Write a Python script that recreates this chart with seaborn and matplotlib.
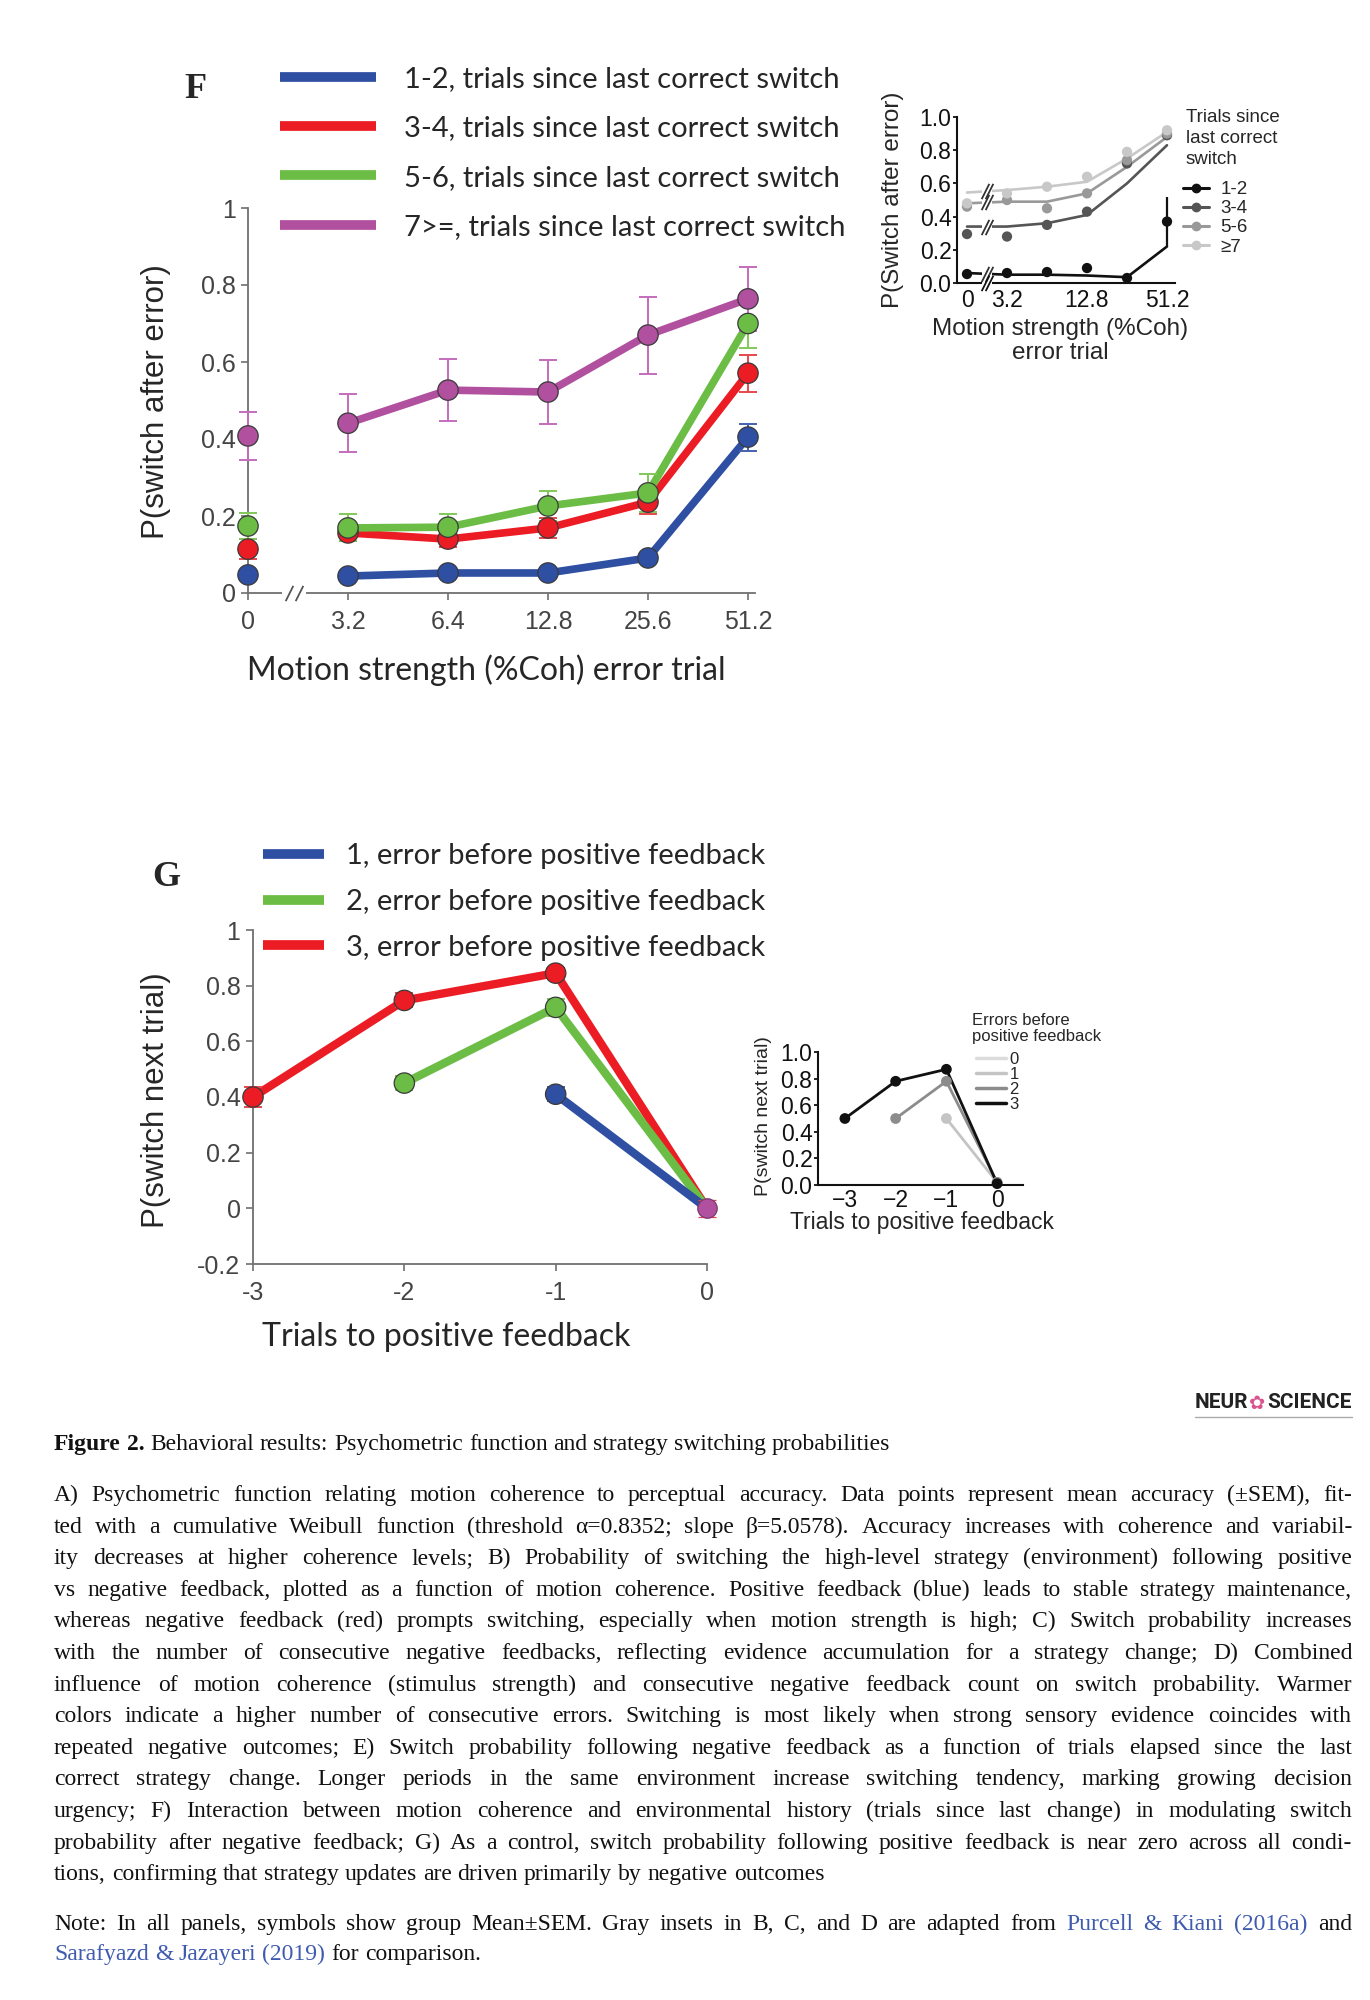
import numpy as np
import pandas as pd
import seaborn as sns
import matplotlib.pyplot as plt
from matplotlib.lines import Line2D

# ---------------- panel F (main) ----------------
coh_labels = ['0', '3.2', '6.4', '12.8', '25.6', '51.2']
f_groups = ['1-2', '3-4', '5-6', '7>=']
f_mean_12 = [0.047, 0.044, 0.052, 0.052, 0.091, 0.405]
f_sem_12 = [0.010, 0.008, 0.010, 0.010, 0.012, 0.035]
f_mean_34 = [0.114, 0.156, 0.140, 0.169, 0.236, 0.571]
f_sem_34 = [0.025, 0.020, 0.020, 0.025, 0.030, 0.048]
f_mean_56 = [0.174, 0.169, 0.171, 0.226, 0.260, 0.700]
f_sem_56 = [0.033, 0.035, 0.033, 0.040, 0.050, 0.064]
f_mean_7 = [0.408, 0.441, 0.527, 0.522, 0.670, 0.764]
f_sem_7 = [0.063, 0.076, 0.080, 0.084, 0.100, 0.083]
f_legend = ['1-2, trials since last correct switch',
            '3-4, trials since last correct switch',
            '5-6, trials since last correct switch',
            '7>=, trials since last correct switch']

# ---------------- panel F (inset, adapted) ----------------
fi_labels = ['1-2', '3-4', '5-6', '≥7']
fi_title = 'Trials since\nlast correct\nswitch'
fi_xlabels = ['0', '3.2', '12.8', '51.2']
fi_dots_12 = [0.054, 0.060, 0.066, 0.090, 0.030, 0.370]
fi_fit_12 = [0.060, 0.050, 0.050, 0.045, 0.035, 0.220]
fi_dots_34 = [0.295, 0.280, 0.350, 0.430, 0.720, 0.890]
fi_fit_34 = [0.340, 0.340, 0.360, 0.410, 0.600, 0.830]
fi_dots_56 = [0.460, 0.500, 0.450, 0.540, 0.740, 0.900]
fi_fit_56 = [0.480, 0.490, 0.490, 0.540, 0.700, 0.880]
fi_dots_7 = [0.480, 0.540, 0.580, 0.640, 0.790, 0.920]
fi_fit_7 = [0.545, 0.560, 0.580, 0.610, 0.750, 0.910]
fi_err_12 = 0.15  # error on the 51.2 point of 1-2

# ---------------- panel G (main) ----------------
g_groups = ['1', '2', '3']
g_trials_1 = [-1, 0]
g_mean_1 = [0.410, 0.0]
g_sem_1 = [0.025, 0.0]
g_trials_2 = [-2, -1, 0]
g_mean_2 = [0.450, 0.722, 0.0]
g_sem_2 = [0.025, 0.030, 0.0]
g_trials_3 = [-3, -2, -1, 0]
g_mean_3 = [0.400, 0.747, 0.845, 0.0]
g_sem_3 = [0.035, 0.025, 0.020, 0.0]
g_zero_mean = 0.0
g_zero_sem = 0.03
g_legend = ['1, error before positive feedback',
            '2, error before positive feedback',
            '3, error before positive feedback']

# ---------------- panel G (inset, adapted) ----------------
gi_levels = ['0', '1', '2', '3']
gi_title = 'Errors before\npositive feedback'
gi_trials_1 = [-1, 0]
gi_p_1 = [0.50, 0.02]
gi_trials_2 = [-2, -1, 0]
gi_p_2 = [0.50, 0.78, 0.02]
gi_trials_3 = [-3, -2, -1, 0]
gi_p_3 = [0.50, 0.78, 0.87, 0.01]

sns.set_style('ticks')
plt.rcParams['font.family'] = ['Liberation Sans', 'DejaVu Sans']
CAL = ['Lato', 'DejaVu Sans']

W, H = 1370, 2000
fig = plt.figure(figsize=(13.7, 20), dpi=100)
fig.patch.set_facecolor('white')


def rect(left, top, right, bottom):
    return [left / W, 1 - bottom / H, (right - left) / W, (bottom - top) / H]


def axis_break(ax, x, y, color):
    ax.plot([x - 0.12, x + 0.12], [y, y], color='white', lw=4.5, zorder=5,
            clip_on=False, solid_capstyle='butt')
    ax.plot([x - 0.05, x + 0.05], [y, y], ls='none', marker=[(-0.5, -1), (0.5, 1)],
            ms=11, mec=color, mew=1.3, zorder=6, clip_on=False)


# ======== F main ========
ax_f = fig.add_axes(rect(248, 208, 755, 593))
rows = []
for g, m, s in zip(f_groups, [f_mean_12, f_mean_34, f_mean_56, f_mean_7],
                   [f_sem_12, f_sem_34, f_sem_56, f_sem_7]):
    for i, (mm, ss) in enumerate(zip(m, s)):
        rows.append(dict(pos=i, group=g, p=mm, err=ss))
df_f = pd.DataFrame(rows)
f_pal = dict(zip(f_groups, ['#2f4fa2', '#ec1c24', '#6bbd45', '#b1509f']))
f_err = dict(zip(f_groups, ['#4660b0', '#e8474c', '#80c85a', '#c46cbc']))

sns.lineplot(data=df_f[df_f['pos'] > 0], x='pos', y='p', hue='group', hue_order=f_groups,
             palette=f_pal, linewidth=5.5, errorbar=None, legend=False, ax=ax_f, zorder=2)
for g in f_groups:
    d = df_f[df_f['group'] == g]
    ax_f.errorbar(d['pos'], d['p'], yerr=d['err'], fmt='none', ecolor=f_err[g], elinewidth=1.4,
                  capsize=6.5, capthick=1.4, zorder=3, clip_on=False)
sns.scatterplot(data=df_f, x='pos', y='p', hue='group', hue_order=f_groups, palette=f_pal,
                s=215, edgecolor='#3a3a3a', linewidth=0.9, legend=False, ax=ax_f,
                zorder=4, clip_on=False)

ax_f.set_xlim(0, 5.07)
ax_f.set_ylim(0, 1)
ax_f.set_xticks(range(len(coh_labels)), coh_labels)
ax_f.set_yticks([0, 0.2, 0.4, 0.6, 0.8, 1.0], ['0', '0.2', '0.4', '0.6', '0.8', '1'])
sns.despine(ax=ax_f)
for sp in ['left', 'bottom']:
    ax_f.spines[sp].set_color('#707070')
    ax_f.spines[sp].set_linewidth(1.3)
ax_f.tick_params(colors='#707070', labelcolor='#444444', labelsize=18, length=5, width=1.2)
ax_f.tick_params(axis='x', pad=7)
ax_f.tick_params(axis='y', pad=4)
axis_break(ax_f, 0.46, 0, '#555555')
ax_f.set_xlabel('Motion strength (%Coh) error trial', fontsize=23, family=CAL, va='center')
ax_f.xaxis.set_label_coords(0.471, -0.2)
ax_f.set_ylabel('P(switch after error)', fontsize=22.5, va='center')
ax_f.yaxis.set_label_coords(-0.181, 0.496)

f_handles = [Line2D([], [], color=f_pal[g], lw=7, solid_capstyle='butt') for g in f_groups]
fig.legend(f_handles, f_legend, loc='upper left', bbox_to_anchor=(280 / W, 1 - 66 / H),
           frameon=False, prop={'family': CAL, 'size': 21}, handlelength=3.3,
           handletextpad=0.95, labelspacing=0.8, borderpad=0, borderaxespad=0)
fig.text(195 / W, 1 - 90 / H, 'F', fontsize=26, fontweight='bold',
         family=['Liberation Serif', 'DejaVu Serif'], ha='center', va='center')

# ======== F inset ========
ax_fi = fig.add_axes(rect(957, 117, 1175, 283))
rows = []
for g, dv, fv in zip(fi_labels, [fi_dots_12, fi_dots_34, fi_dots_56, fi_dots_7],
                     [fi_fit_12, fi_fit_34, fi_fit_56, fi_fit_7]):
    for i, (a, b) in enumerate(zip(dv, fv)):
        rows.append(dict(pos=i, group=g, obs=a, fitval=b))
df_fi = pd.DataFrame(rows)
fi_pal = dict(zip(fi_labels, ['#111111', '#555555', '#999999', '#c8c8c8']))
order_fi = fi_labels[::-1]
sns.lineplot(data=df_fi, x='pos', y='fitval', hue='group', hue_order=order_fi, palette=fi_pal,
             linewidth=1.9, errorbar=None, legend=False, ax=ax_fi, zorder=2)
sns.scatterplot(data=df_fi, x='pos', y='obs', hue='group', hue_order=order_fi, palette=fi_pal,
                s=55, edgecolor='none', legend=False, ax=ax_fi, zorder=3, clip_on=False)
ax_fi.errorbar(5, fi_dots_12[5], yerr=fi_err_12, fmt='none', ecolor='#111111', elinewidth=1.6,
               capsize=0, zorder=3)
for g in fi_labels:
    d = df_fi[df_fi['group'] == g]
    axis_break(ax_fi, 0.5, d['fitval'].iloc[:2].mean(), '#333333')
axis_break(ax_fi, 0.5, 0, '#111111')
ax_fi.set_xlim(-0.25, 5.2)
ax_fi.set_ylim(0, 1.0)
ax_fi.set_xticks([0, 1, 3, 5], fi_xlabels)
ax_fi.set_yticks(np.arange(0, 1.01, 0.2), ['0.0', '0.2', '0.4', '0.6', '0.8', '1.0'])
sns.despine(ax=ax_fi)
for sp in ['left', 'bottom']:
    ax_fi.spines[sp].set_color('#111111')
    ax_fi.spines[sp].set_linewidth(1.5)
ax_fi.tick_params(labelsize=16.5, colors='#111111', width=1.3)
ax_fi.tick_params(axis='x', length=0, pad=4)
ax_fi.tick_params(axis='y', length=3, pad=1)
ax_fi.set_ylabel('P(Switch after error)', fontsize=17.5, va='center')
ax_fi.yaxis.set_label_coords(-0.294, 0.5)
ax_fi.set_xlabel('Motion strength (%Coh)\nerror trial', fontsize=17.5, va='center',
                 linespacing=1.1)
ax_fi.xaxis.set_label_coords(0.472, -0.35)
fi_handles = [Line2D([], [], color=fi_pal[g], lw=2.2, marker='o', ms=6) for g in fi_labels]
ax_fi.legend(fi_handles, fi_labels, loc='upper left',
             bbox_to_anchor=(1183 / W, 1 - 181 / H), bbox_transform=fig.transFigure,
             frameon=False, fontsize=13.5, handlelength=1.4, handletextpad=0.6,
             labelspacing=0.11, borderpad=0, borderaxespad=0)
fig.text(1186 / W, 1 - 138.5 / H, fi_title, fontsize=13.5, linespacing=1.3,
         ha='left', va='center')

# ======== G main ========
ax_g = fig.add_axes(rect(253, 930, 707, 1264))
rows = []
for g, t, m, s in zip(g_groups, [g_trials_1, g_trials_2, g_trials_3],
                      [g_mean_1, g_mean_2, g_mean_3], [g_sem_1, g_sem_2, g_sem_3]):
    for tt, mm, ss in zip(t, m, s):
        rows.append(dict(trial=tt, group=g, p=mm, err=ss))
df_g = pd.DataFrame(rows)
g_pal = dict(zip(g_groups, ['#2f4fa2', '#6bbd45', '#ec1c24']))
g_err = dict(zip(g_groups, ['#4660b0', '#80c85a', '#e8474c']))
order_g = g_groups[::-1]
sns.lineplot(data=df_g, x='trial', y='p', hue='group', hue_order=order_g, palette=g_pal,
             linewidth=6, errorbar=None, legend=False, ax=ax_g, zorder=2)
dots_g = df_g[df_g['trial'] < 0]
for g in order_g:
    d = dots_g[dots_g['group'] == g]
    ax_g.errorbar(d['trial'], d['p'], yerr=d['err'], fmt='none', ecolor=g_err[g], elinewidth=1.4,
                  capsize=6.5, capthick=1.4, zorder=3, clip_on=False)
sns.scatterplot(data=dots_g, x='trial', y='p', hue='group', hue_order=order_g, palette=g_pal,
                s=215, edgecolor='#3a3a3a', linewidth=0.9, legend=False, ax=ax_g,
                zorder=4, clip_on=False)
ax_g.errorbar([0], [g_zero_mean], yerr=[g_zero_sem], fmt='o', color='#b1509f', ms=14,
              mec='#7a3a70', mew=0.9, ecolor='#e8474c', elinewidth=1.4, capsize=6.5,
              capthick=1.4, zorder=4, clip_on=False)
ax_g.set_xlim(-3, 0)
ax_g.set_ylim(-0.2, 1)
ax_g.set_xticks([-3, -2, -1, 0], ['-3', '-2', '-1', '0'])
ax_g.set_yticks([-0.2, 0, 0.2, 0.4, 0.6, 0.8, 1.0],
                ['-0.2', '0', '0.2', '0.4', '0.6', '0.8', '1'])
sns.despine(ax=ax_g)
for sp in ['left', 'bottom']:
    ax_g.spines[sp].set_color('#707070')
    ax_g.spines[sp].set_linewidth(1.3)
ax_g.tick_params(colors='#707070', labelcolor='#444444', labelsize=18, length=5, width=1.2)
ax_g.tick_params(axis='x', pad=7)
ax_g.tick_params(axis='y', pad=4)
ax_g.set_xlabel('Trials to positive feedback', fontsize=23, family=CAL, va='center')
ax_g.xaxis.set_label_coords(0.425, -0.219)
ax_g.set_ylabel('P(switch next trial)', fontsize=22.5, va='center')
ax_g.yaxis.set_label_coords(-0.214, 0.491)

g_handles = [Line2D([], [], color=g_pal[g], lw=7, solid_capstyle='butt') for g in g_groups]
fig.legend(g_handles, g_legend, loc='upper left', bbox_to_anchor=(263 / W, 1 - 843 / H),
           frameon=False, prop={'family': CAL, 'size': 21}, handlelength=2.1,
           handletextpad=0.75, labelspacing=0.68, borderpad=0, borderaxespad=0)
fig.text(166 / W, 1 - 878 / H, 'G', fontsize=26, fontweight='bold',
         family=['Liberation Serif', 'DejaVu Serif'], ha='center', va='center')

# ======== G inset ========
ax_gi = fig.add_axes(rect(818, 1052, 1023, 1185))
rows = []
for g, t, p in zip(gi_levels[1:], [gi_trials_1, gi_trials_2, gi_trials_3],
                   [gi_p_1, gi_p_2, gi_p_3]):
    for tt, pp in zip(t, p):
        rows.append(dict(trial=tt, group=g, p=pp))
df_gi = pd.DataFrame(rows)
gi_pal = dict(zip(gi_levels, ['#dcdcdc', '#c4c4c4', '#8c8c8c', '#111111']))
sns.lineplot(data=df_gi, x='trial', y='p', hue='group', hue_order=gi_levels[1:],
             palette=gi_pal, linewidth=2, errorbar=None, legend=False, ax=ax_gi, zorder=2)
sns.scatterplot(data=df_gi, x='trial', y='p', hue='group', hue_order=gi_levels[1:],
                palette=gi_pal, s=60, edgecolor='none', legend=False, ax=ax_gi, zorder=3,
                clip_on=False)
ax_gi.set_xlim(-3.53, 0.51)
ax_gi.set_ylim(0, 1.0)
ax_gi.set_xticks([-3, -2, -1, 0], ['\u22123', '\u22122', '\u22121', '0'])
ax_gi.set_yticks(np.arange(0, 1.01, 0.2), ['0.0', '0.2', '0.4', '0.6', '0.8', '1.0'])
sns.despine(ax=ax_gi)
for sp in ['left', 'bottom']:
    ax_gi.spines[sp].set_color('#111111')
    ax_gi.spines[sp].set_linewidth(1.5)
ax_gi.tick_params(labelsize=16.5, colors='#111111', width=1.3)
ax_gi.tick_params(axis='x', length=0, pad=3)
ax_gi.tick_params(axis='y', length=3, pad=1)
ax_gi.set_ylabel('P(switch next trial)', fontsize=14, va='center')
ax_gi.yaxis.set_label_coords(-0.268, 0.52)
ax_gi.set_xlabel('Trials to positive feedback', fontsize=16.5, va='center')
ax_gi.xaxis.set_label_coords(0.507, -0.28)
gi_handles = [Line2D([], [], color=gi_pal[k], lw=2.5) for k in gi_levels]
ax_gi.legend(gi_handles, gi_levels, loc='upper left', bbox_to_anchor=(976 / W, 1 - 1052 / H),
             bbox_transform=fig.transFigure, frameon=False, fontsize=12,
             handlelength=1.8, handletextpad=0.2, labelspacing=0.0, borderpad=0,
             borderaxespad=0)
fig.text(972 / W, 1 - 1028.5 / H, gi_title, fontsize=12, linespacing=1.05,
         ha='left', va='center')

# ======== caption ========
caption_title = 'Figure 2. Behavioral results: Psychometric function and strategy switching probabilities'
caption_lines = [
    'A) Psychometric function relating motion coherence to perceptual accuracy. Data points represent mean accuracy (±SEM), fit-',
    'ted with a cumulative Weibull function (threshold α=0.8352; slope β=5.0578). Accuracy increases with coherence and variabil-',
    'ity decreases at higher coherence levels; B) Probability of switching the high-level strategy (environment) following positive',
    'vs negative feedback, plotted as a function of motion coherence. Positive feedback (blue) leads to stable strategy maintenance,',
    'whereas negative feedback (red) prompts switching, especially when motion strength is high; C) Switch probability increases',
    'with the number of consecutive negative feedbacks, reflecting evidence accumulation for a strategy change; D) Combined',
    'influence of motion coherence (stimulus strength) and consecutive negative feedback count on switch probability. Warmer',
    'colors indicate a higher number of consecutive errors. Switching is most likely when strong sensory evidence coincides with',
    'repeated negative outcomes; E) Switch probability following negative feedback as a function of trials elapsed since the last',
    'correct strategy change. Longer periods in the same environment increase switching tendency, marking growing decision',
    'urgency; F) Interaction between motion coherence and environmental history (trials since last change) in modulating switch',
    'probability after negative feedback; G) As a control, switch probability following positive feedback is near zero across all condi-',
    'tions, confirming that strategy updates are driven primarily by negative outcomes',
]
note_lines = [
    'Note: In all panels, symbols show group Mean±SEM. Gray insets in B, C, and D are adapted from Purcell & Kiani (2016a) and',
    'Sarafyazd & Jazayeri (2019) for comparison.',
]
link_words = {'Purcell', '&', 'Kiani', '(2016a)', 'Sarafyazd', 'Jazayeri', '(2019)'}

renderer = fig.canvas.get_renderer()
SERIF = ['Liberation Serif', 'DejaVu Serif']
CAP_SIZE = 17


def text_line(tokens, y, x0=54, x1=1352, justify=True):
    arts = [fig.text(0, 1 - y / H, w, fontsize=CAP_SIZE, color=c, fontweight=wt,
                     family=SERIF, va='baseline', ha='left') for w, c, wt in tokens]
    widths = [a.get_window_extent(renderer).width for a in arts]
    if justify and len(arts) > 1:
        gap = (x1 - x0 - sum(widths)) / (len(arts) - 1)
    else:
        gap = CAP_SIZE * 100 / 72 * 0.25
    x = x0
    for a, w in zip(arts, widths):
        a.set_x(x / W)
        x += w + gap


title_words = caption_title.split()
text_line([(w, '#111111', 'bold' if i < 2 else 'normal') for i, w in enumerate(title_words)],
          1450, justify=False)
y0 = 1501
for i, line in enumerate(caption_lines):
    last = i == len(caption_lines) - 1
    text_line([(w, '#111111', 'normal') for w in line.split()], y0 + i * 31.6,
              justify=not last)
for i, line in enumerate(note_lines):
    toks = [(w, '#3f5bb0' if w in link_words else '#111111', 'normal') for w in line.split()]
    text_line(toks, 1930 + i * 30, justify=(i == 0))

# journal logo
logo_r = fig.text(1352 / W, 1 - 1403 / H, 'SCIENCE', fontsize=15, fontweight='bold',
                  family=['Roboto', 'DejaVu Sans'], color='#222222', ha='right', va='center')
bb = logo_r.get_window_extent(renderer)
flower = fig.text((bb.x0 - 2) / W, 1 - 1403 / H, '\u273f', fontsize=14, color='#d9558f',
                  family=['DejaVu Sans'], ha='right', va='center')
bb2 = flower.get_window_extent(renderer)
logo_l = fig.text((bb2.x0 - 1) / W, 1 - 1403 / H, 'NEUR', fontsize=15, fontweight='bold',
                  family=['Roboto', 'DejaVu Sans'], color='#222222', ha='right', va='center')
bb3 = logo_l.get_window_extent(renderer)
fig.add_artist(Line2D([bb3.x0 / W, 1352 / W], [1 - 1417 / H] * 2, color='#aaaaaa', lw=1))

fig.savefig('out.png', dpi=100, facecolor='white')
